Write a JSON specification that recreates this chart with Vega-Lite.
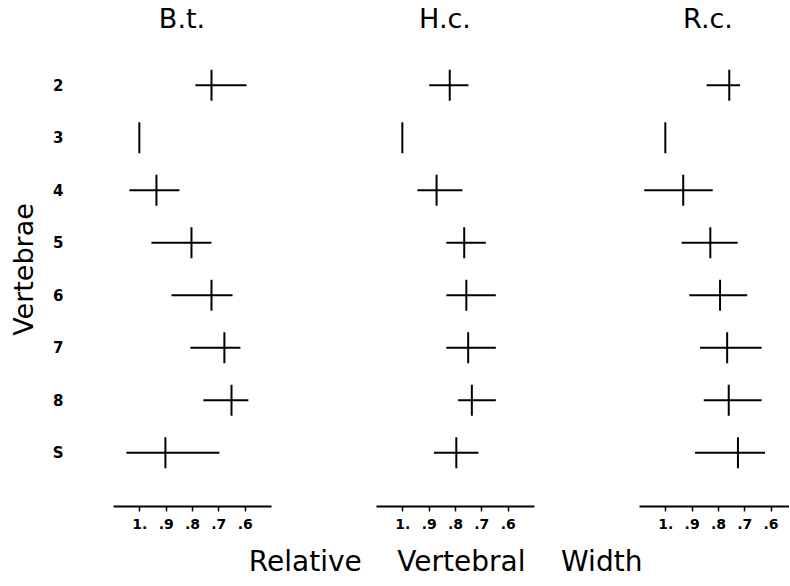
{
  "$schema": "https://vega.github.io/schema/vega-lite/v6.json",
  "padding": {"left": 10, "top": 6, "right": 0, "bottom": 0},
  "background": "white",
  "config": {"view": {"stroke": null}, "font": "DejaVu Sans", "concat": {"spacing": 105},
    "axisX": {"title": null, "labelOverlap": false, "labelExpr": "datum.value == 1 ? '1.' : '.' + format(datum.value * 10, '.0f')", "offset": 27, "grid": false, "domainColor": "black", "domainWidth": 2, "tickColor": "black", "tickWidth": 1.5, "tickSize": 5, "labelFontSize": 14, "labelFontWeight": "bold", "labelColor": "black", "labelPadding": 6}},
  "data": {"values": [
    {"species": "B.t.", "vertebra": "2", "min": 0.787, "max": 0.593, "mean": 0.726},
    {"species": "B.t.", "vertebra": "3", "min": 1.0, "max": 1.0, "mean": 1.0},
    {"species": "B.t.", "vertebra": "4", "min": 1.038, "max": 0.848, "mean": 0.935},
    {"species": "B.t.", "vertebra": "5", "min": 0.954, "max": 0.726, "mean": 0.802},
    {"species": "B.t.", "vertebra": "6", "min": 0.878, "max": 0.646, "mean": 0.726},
    {"species": "B.t.", "vertebra": "7", "min": 0.806, "max": 0.616, "mean": 0.677},
    {"species": "B.t.", "vertebra": "8", "min": 0.757, "max": 0.586, "mean": 0.65},
    {"species": "B.t.", "vertebra": "S", "min": 1.049, "max": 0.696, "mean": 0.901},
    {"species": "H.c.", "vertebra": "2", "min": 0.898, "max": 0.749, "mean": 0.82},
    {"species": "H.c.", "vertebra": "3", "min": 1.0, "max": 1.0, "mean": 1.0},
    {"species": "H.c.", "vertebra": "4", "min": 0.943, "max": 0.772, "mean": 0.87},
    {"species": "H.c.", "vertebra": "5", "min": 0.833, "max": 0.683, "mean": 0.765},
    {"species": "H.c.", "vertebra": "6", "min": 0.833, "max": 0.645, "mean": 0.757},
    {"species": "H.c.", "vertebra": "7", "min": 0.833, "max": 0.645, "mean": 0.75},
    {"species": "H.c.", "vertebra": "8", "min": 0.788, "max": 0.645, "mean": 0.736},
    {"species": "H.c.", "vertebra": "S", "min": 0.88, "max": 0.711, "mean": 0.795},
    {"species": "R.c.", "vertebra": "2", "min": 0.843, "max": 0.716, "mean": 0.757},
    {"species": "R.c.", "vertebra": "3", "min": 1.0, "max": 1.0, "mean": 1.0},
    {"species": "R.c.", "vertebra": "4", "min": 1.08, "max": 0.82, "mean": 0.932},
    {"species": "R.c.", "vertebra": "5", "min": 0.938, "max": 0.725, "mean": 0.829},
    {"species": "R.c.", "vertebra": "6", "min": 0.909, "max": 0.689, "mean": 0.792},
    {"species": "R.c.", "vertebra": "7", "min": 0.868, "max": 0.634, "mean": 0.765},
    {"species": "R.c.", "vertebra": "8", "min": 0.854, "max": 0.634, "mean": 0.759},
    {"species": "R.c.", "vertebra": "S", "min": 0.887, "max": 0.621, "mean": 0.724}
  ]},
  "title": {"text": "Relative\u00a0\u00a0\u00a0\u00a0Vertebral\u00a0\u00a0\u00a0\u00a0Width", "orient": "bottom", "anchor": "middle", "fontSize": 28, "fontWeight": "normal", "color": "black", "dx": 46, "offset": 18},
  "hconcat": [
    {
      "width": 158, "height": 420,
      "title": {"text": "B.t.", "fontSize": 27, "fontWeight": "normal", "color": "black", "dx": -10, "offset": 4, "baseline": "alphabetic"},
      "transform": [{"filter": "datum.species === 'B.t.'"}],
      "encoding": {
        "y": {"field": "vertebra", "type": "ordinal", "scale": {"type": "point", "domain": ["2","3","4","5","6","7","8","S"], "padding": 0.5},
          "axis": {"title": "Vertebrae", "titleFontSize": 27, "titleFontWeight": "normal", "titleColor": "black", "labelFontSize": 15, "labelFontWeight": "bold", "labelColor": "black", "labelPadding": 50, "ticks": false, "domain": false, "titlePadding": 14}}
      },
      "layer": [
        {"mark": {"type": "rule", "strokeWidth": 2, "color": "black"},
         "encoding": {"x": {"field": "min", "type": "quantitative", "scale": {"domain": [0.5, 1.1], "reverse": true, "zero": false, "nice": false},
             "axis": {"values": [1, 0.9, 0.8, 0.7, 0.6], "tickCount": 10}},
           "x2": {"field": "max"}}},
        {"mark": {"type": "tick", "orient": "vertical", "size": 31, "thickness": 2, "color": "black", "opacity": 1},
         "encoding": {"x": {"field": "mean", "type": "quantitative"}}}
      ]
    },
    {
      "width": 158, "height": 420,
      "title": {"text": "H.c.", "fontSize": 27, "fontWeight": "normal", "color": "black", "dx": -10, "offset": 4, "baseline": "alphabetic"},
      "transform": [{"filter": "datum.species === 'H.c.'"}],
      "encoding": {"y": {"field": "vertebra", "type": "ordinal", "scale": {"type": "point", "domain": ["2","3","4","5","6","7","8","S"], "padding": 0.5}, "axis": null}},
      "layer": [
        {"mark": {"type": "rule", "strokeWidth": 2, "color": "black"},
         "encoding": {"x": {"field": "min", "type": "quantitative", "scale": {"domain": [0.5, 1.1], "reverse": true, "zero": false, "nice": false},
             "axis": {"values": [1, 0.9, 0.8, 0.7, 0.6], "tickCount": 10}},
           "x2": {"field": "max"}}},
        {"mark": {"type": "tick", "orient": "vertical", "size": 31, "thickness": 2, "color": "black", "opacity": 1},
         "encoding": {"x": {"field": "mean", "type": "quantitative"}}}
      ]
    },
    {
      "width": 150, "height": 420,
      "title": {"text": "R.c.", "fontSize": 27, "fontWeight": "normal", "color": "black", "dx": -6, "offset": 4, "baseline": "alphabetic"},
      "transform": [{"filter": "datum.species === 'R.c.'"}],
      "encoding": {"y": {"field": "vertebra", "type": "ordinal", "scale": {"type": "point", "domain": ["2","3","4","5","6","7","8","S"], "padding": 0.5}, "axis": null}},
      "layer": [
        {"mark": {"type": "rule", "strokeWidth": 2, "color": "black"},
         "encoding": {"x": {"field": "min", "type": "quantitative", "scale": {"domain": [0.53, 1.1], "reverse": true, "zero": false, "nice": false},
             "axis": {"values": [1, 0.9, 0.8, 0.7, 0.6], "tickCount": 10}},
           "x2": {"field": "max"}}},
        {"mark": {"type": "tick", "orient": "vertical", "size": 31, "thickness": 2, "color": "black", "opacity": 1},
         "encoding": {"x": {"field": "mean", "type": "quantitative"}}}
      ]
    }
  ]
}
